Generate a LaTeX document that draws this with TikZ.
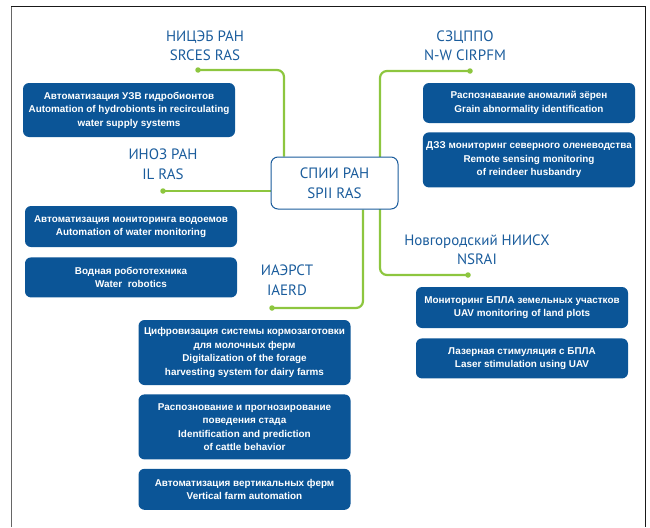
\documentclass[tikz,border=0pt]{standalone}
\usepackage{fontspec}
\setmainfont{Liberation Sans}
\newfontfamily\orgfont{PT Sans}
\usetikzlibrary{positioning,backgrounds}
\definecolor{taskblue}{HTML}{0B5597}
\definecolor{linkgreen}{HTML}{8DC63F}
\definecolor{orgblue}{HTML}{1A5C9C}
\tikzset{
  task/.style={fill=taskblue,text=white,rounded corners=6pt,align=center,
    minimum width=212pt,inner ysep=7pt,font=\bfseries\fontsize{9.9}{13.5}\selectfont},
  org/.style={text=orgblue,align=center,font=\orgfont\fontsize{15}{19.5}\selectfont},
  link/.style={linkgreen,line width=2.2pt,rounded corners=7pt},
  linkdot/.style={circle,fill=linkgreen,inner sep=0pt,minimum size=5.5pt}
}
\begin{document}
\begin{tikzpicture}[x=1pt,y=-1pt]
\useasboundingbox (0,0) rectangle (650,527);
% frame
\draw[black!60,line width=1.4pt] (11.5,527) -- (11.5,6);
\draw[black!90,line width=0.9pt] (11,6) -- (645,6) -- (645,527);

% centre
\node[org,draw=orgblue,line width=1pt,fill=white,rounded corners=7pt,
  minimum width=127pt,minimum height=52pt] (spii) at (334.5,183) {СПИИ РАН\\SPII RAS};

% institutes
\node[org] (srces) at (205,45.5) {НИЦЭБ РАН\\SRCES RAS};
\node[org] (nw) at (465,45.5) {СЗЦППО\\N-W CIRPFM};
\node[org] (il) at (163,164) {ИНОЗ РАН\\IL RAS};
\node[org] (nsrai) at (477,249.5) {Новгородский НИИСХ\\NSRAI};
\node[org] (iaerd) at (287,280) {ИАЭРСТ\\IAERD};

\node[linkdot] (srces dot) at (198,70) {};
\node[linkdot] (il dot) at (163,191) {};
\node[linkdot] (nw dot) at (470,71) {};
\node[linkdot] (nsrai dot) at (468,275) {};
\node[linkdot] (iaerd dot) at (272,308) {};

\begin{scope}[on background layer]
\draw[link] (srces dot.center) -| ([xshift=-50.5pt]spii.north);
\draw[link] (il dot.center) -- (il dot.center -| spii.west);
\draw[link] (nw dot.center) -| ([xshift=-18.5pt]spii.east) |- (nsrai dot.center);
\draw[link] ([xshift=28.5pt]spii.south) |- (iaerd dot.center);
\end{scope}

% tasks
\node[task,minimum height=54pt] (hydro) at (129,110)
  {Автоматизация УЗВ гидробионтов\\Automation of hydrobionts in recirculating\\water supply systems};
\node[task,minimum height=41pt] (watermon) at (131,226.5)
  {Автоматизация мониторинга водоемов\\Automation of water monitoring};
\node[task,minimum height=40pt,below=10pt of watermon] (robotics)
  {Водная робототехника\\Water\ \ robotics};

\node[task,minimum height=65pt] (forage) at (244.5,352.5)
  {Цифровизация системы кормозаготовки\\для молочных ферм\\Digitalization of the forage\\harvesting system for dairy farms};
\node[task,minimum height=65pt,below=9pt of forage] (cattle)
  {Распознование и прогнозирование\\поведения стада\\Identification and prediction\\of cattle behavior};
\node[task,minimum height=41pt,below=9pt of cattle] (vertical)
  {Автоматизация вертикальных ферм\\Vertical farm automation};

\node[task,minimum height=40pt] (grain) at (529,103)
  {Распознавание аномалий зёрен\\Grain abnormality identification};
\node[task,minimum height=55pt,below=9pt of grain] (reindeer)
  {ДЗЗ мониторинг северного оленеводства\\Remote sensing monitoring\\of reindeer husbandry};

\node[task,minimum height=41pt] (uav) at (522,307.5)
  {Мониторинг БПЛА земельных участков\\UAV monitoring of land plots};
\node[task,minimum height=40pt,below=10pt of uav] (laser)
  {Лазерная стимуляция с БПЛА\\Laser stimulation using UAV};
\end{tikzpicture}
\end{document}
